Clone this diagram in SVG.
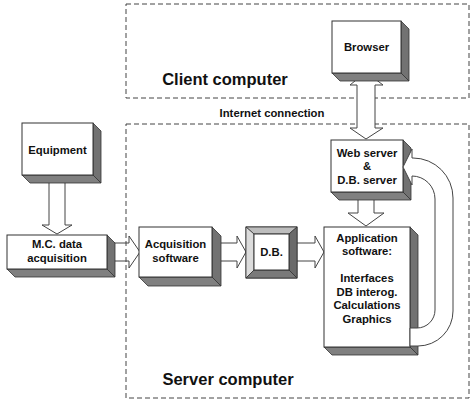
<svg xmlns="http://www.w3.org/2000/svg" width="474" height="406" viewBox="0 0 474 406">
<style>
.zone{fill:none;stroke:#444;stroke-width:1;stroke-dasharray:5,3}
.face{fill:#fff;stroke:#333;stroke-width:1}
.side{fill:#727272;stroke:#333;stroke-width:0.8}
.bot{fill:#808080;stroke:#333;stroke-width:0.8}
.arrow{fill:#fff;stroke:#444;stroke-width:1;stroke-linejoin:miter}
.t{font-family:"Liberation Sans",Arial,sans-serif;font-weight:bold;font-size:11.3px;fill:#111;text-anchor:middle}
.big{font-family:"Liberation Sans",Arial,sans-serif;font-weight:bold;font-size:16.5px;fill:#111;text-anchor:middle}
</style>
<rect width="474" height="406" fill="#fff"/>
<g id="containers">
<rect class="zone" x="126" y="4" width="343" height="94"/>
<rect class="zone" x="126" y="124" width="343" height="274"/>
<text class="big" x="225" y="85">Client computer</text>
<text class="t" x="272" y="117">Internet connection</text>
<text class="big" x="228" y="385">Server computer</text>
</g>
<g id="connectors">
<polygon class="arrow" points="49,170 65,170 65,225 72,225 57,234 42,225 49,225"/>
<polygon class="arrow" style="fill:none" points="100,243 129,243 129,236 140,252 129,268 129,261 100,261"/>
<polygon class="arrow" points="205,243 237,243 237,236 246,252 237,268 237,261 205,261"/>
<polygon class="arrow" points="290,243 315,243 315,236 324,252 315,268 315,261 290,261"/>
<polygon class="arrow" points="358,185 374,185 374,213 384,213 366,226 348,213 358,213"/>
<polygon class="arrow" points="366,72 383,85 375,85 375,128 383,128 366,139 350,128 357,128 357,85 350,85"/>
</g>
<g id="equipment">
<polygon class="side" points="93,123 101,131 101,183 93,175"/>
<polygon class="bot" points="22,175 93,175 101,183 30,183"/>
<rect class="face" x="22" y="123" width="71" height="52"/>
<text class="t" x="57.5" y="154">Equipment</text>
</g>
<g id="mc">
<polygon class="side" points="107,235 115,243 115,277 107,269"/>
<polygon class="bot" points="7,269 107,269 115,277 15,277"/>
<rect class="face" x="7" y="235" width="100" height="34"/>
<text class="t" x="57" y="248">M.C. data</text>
<text class="t" x="57" y="262">acquisition</text>
</g>
<g id="acq">
<polygon class="side" points="212,227 221,236 221,286 212,277"/>
<polygon class="bot" points="139,277 212,277 221,286 148,286"/>
<rect class="face" x="139" y="227" width="73" height="50"/>
<text class="t" x="175.5" y="248">Acquisition</text>
<text class="t" x="175.5" y="262">software</text>
</g>
<g id="db">
<rect x="246" y="227" width="51" height="51" fill="#fff" stroke="#333"/>
<polygon points="246,227 297,227 289,234 254,234" fill="#bdbdbd" stroke="#333" stroke-width="0.8"/>
<polygon points="246,227 254,234 254,270 246,278" fill="#dcdcdc" stroke="#333" stroke-width="0.8"/>
<polygon points="297,227 297,278 289,270 289,234" fill="#6a6a6a" stroke="#333" stroke-width="0.8"/>
<polygon points="246,278 297,278 289,270 254,270" fill="#7a7a7a" stroke="#333" stroke-width="0.8"/>
<rect class="face" x="254" y="234" width="35" height="36"/>
<text class="t" x="271.5" y="256">D.B.</text>
</g>
<g id="browser">
<polygon class="side" points="401,21 409,29 409,81 401,73"/>
<polygon class="bot" points="332,73 401,73 409,81 340,81"/>
<rect class="face" x="332" y="21" width="69" height="52"/>
<text class="t" x="366.5" y="51">Browser</text>
</g>
<g id="webserver">
<polygon class="side" points="403,140 411,148 411,200 403,192"/>
<polygon class="bot" points="331,192 403,192 411,200 339,200"/>
<rect class="face" x="331" y="140" width="72" height="52"/>
<text class="t" x="367" y="157">Web server</text>
<text class="t" x="367" y="170">&amp;</text>
<text class="t" x="367" y="184">D.B. server</text>
</g>
<g id="app">
<polygon class="side" points="410,227 418,235 418,355 410,347"/>
<polygon class="bot" points="324,347 410,347 418,355 332,355"/>
<rect class="face" x="324" y="227" width="86" height="120"/>
<text class="t" x="367" y="242">Application</text>
<text class="t" x="367" y="255">software:</text>
<text class="t" x="367" y="282">Interfaces</text>
<text class="t" x="367" y="295.5">DB interog.</text>
<text class="t" x="367" y="309">Calculations</text>
<text class="t" x="367" y="322.5">Graphics</text>
</g>
<g id="loop-connector">
<path class="arrow" d="M410,346 L418,346 A35,35 0 0 0 453,311 L453,198 A40,40 0 0 0 413,158 L412,158 L412,149 L403,167 L412,185 L412,176 A23,23 0 0 1 435,199 L435,310 A18,18 0 0 1 417,328 L410,328 Z"/>
</g>
</svg>
